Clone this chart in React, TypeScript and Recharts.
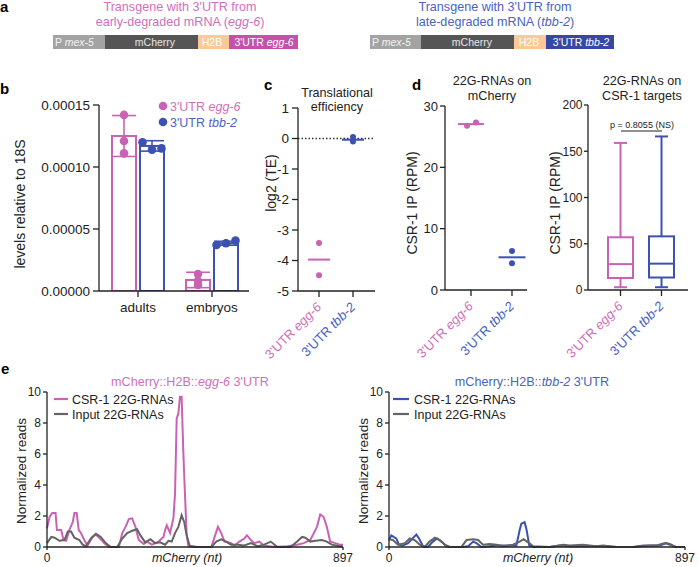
import React from 'react'
import {
  ComposedChart,
  Bar,
  ErrorBar,
  XAxis,
  YAxis,
  ScatterChart,
  Scatter,
  ReferenceLine,
  Line,
} from 'recharts'

// ---------------------------------------------------------------------------
// Style constants
// ---------------------------------------------------------------------------

const FONT = '"Liberation Sans", Arial, Helvetica, sans-serif'
const INK = '#222'
const PINK = '#c962b4'
const BLUE = '#3c51b2'
const PINK_TEXT = '#cf70bb'
const BLUE_TEXT = '#4c62c0'
const GREY_LINE = '#646464'

// ---------------------------------------------------------------------------
// Data
// ---------------------------------------------------------------------------

// b: transcript levels relative to 18S
const stages = ['adults', 'embryos']
const eggLevel = [0.000125, 0.0000089]
const eggLevelSd = [0.0000165, 0.0000062]
const eggLevelReps = [
  [0.000142, 0.000121, 0.000111],
  [0.0000137, 0.0000082, 0.0000048],
]
const tbbLevel = [0.000117, 0.0000385]
const tbbLevelSd = [0.0000042, 0.0000016]
const tbbLevelReps = [
  [0.00012, 0.000114, 0.000115],
  [0.0000371, 0.0000385, 0.0000406],
]
const levelTicks = [0, 0.00005, 0.0001, 0.00015]

// c: translational efficiency, log2
const teEgg = [-3.43, -4.48]
const teTbb = [0.05, -0.1]
const teMean = [-3.97, -0.04]
const teTicks = [-5, -4, -3, -2, -1, 0, 1]

// d: 22G-RNAs on mCherry (CSR-1 IP, RPM)
const mcherryEgg = [26.8, 27.3]
const mcherryTbb = [6.35, 4.35]
const mcherryMean = [27.05, 5.33]
const mcherryTicks = [0, 10, 20, 30]

// d: 22G-RNAs on CSR-1 targets (box plot)
const groupLabels = ['egg-6', 'tbb-2']
const csrMin = [3, 3]
const csrQ1 = [13, 13.5]
const csrMedian = [28, 28.5]
const csrQ3 = [57, 58]
const csrMax = [159, 166]
const csrTicks = [0, 50, 100, 150, 200]
const csrPValue = 'p = 0.8055 (NS)'

// e: read coverage along mCherry (nt)
const eggCsrNt = [
  0, 8, 16, 26, 30, 43, 50, 58, 68, 78, 83, 90, 96, 103, 113, 123, 138, 148, 158, 173,
  188, 218, 228, 238, 248, 258, 268, 278, 293, 303, 318, 338, 353, 358, 363, 373, 383, 388, 393, 398,
  403, 408, 413, 418, 423, 428, 448, 498, 508, 518, 528, 538, 558, 568, 583, 598, 606, 618, 628, 643,
  658, 688, 728, 758, 778, 798, 818, 828, 838, 848, 858, 873, 888, 897,
]
const eggCsrReads = [
  1.2, 1.95, 2.2, 2.2, 1.1, 1.1, 0.45, 0.4, 1.1, 1.6, 2.2, 2.2, 1.1, 0.9, 0.45, 0.1, 0.65, 0.8, 0.6, 0.25,
  0, 0, 0.9, 1.3, 1.8, 1.85, 1.3, 0.45, 0.2, 0.35, 0.15, 0.35, 0.65, 1.1, 1.4, 0.9, 1.85, 3.45, 8.3, 8.6,
  9.7, 9.7, 6.2, 3.45, 0.9, 0.1, 0, 0, 0.65, 1.3, 0.9, 0.35, 0.25, 0.1, 0.35, 0.55, 0.75, 0.45, 0.25, 0.35,
  0.1, 0, 0.05, 0.15, 0.25, 0.45, 1.3, 2.1, 1.95, 1.3, 0.35, 0.25, 0.15, 0.15,
]
const eggInputNt = [
  0, 13, 23, 38, 53, 63, 73, 83, 98, 108, 118, 133, 148, 163, 178, 193, 213, 228, 243, 258,
  273, 283, 298, 313, 328, 343, 358, 368, 378, 388, 398, 408, 416, 423, 433, 458, 498, 513, 528, 543,
  558, 578, 598, 618, 638, 658, 678, 698, 738, 758, 773, 783, 798, 813, 833, 848, 863, 888, 897,
]
const eggInputReads = [
  0.25, 0.65, 0.6, 0.4, 0.45, 1.0, 1.0, 0.6, 0.45, 0.15, 0.05, 0.55, 0.85, 0.65, 0.25, 0, 0, 0.55, 0.9, 1.05,
  1.15, 0.75, 0.3, 0.5, 0.25, 0.3, 0.15, 0.4, 0.35, 0.9, 1.3, 2.05, 1.6, 0.75, 0.05, 0, 0, 0.35, 0.5, 0.35,
  0.15, 0.15, 0.1, 0.25, 0.05, 0.15, 0.35, 0, 0, 0.35, 0.65, 0.6, 0.35, 0.4, 0.45, 0.35, 0.15, 0.05, 0.05,
]
const tbbCsrNt = [
  0, 7, 14, 22, 30, 42, 58, 71, 83, 91, 103, 118, 133, 146, 159, 174, 184, 224, 240, 255,
  265, 280, 305, 326, 346, 366, 386, 396, 401, 411, 417, 425, 437, 487, 518, 548, 588, 639, 690, 740,
  791, 821, 841, 856, 866, 897,
]
const tbbCsrReads = [
  0.45, 0.75, 0.65, 0.55, 0.15, 0.1, 0.25, 0.55, 0.8, 0.55, 0.05, 0, 0.35, 0.55, 0.35, 0.05, 0, 0, 0.05, 0.35,
  0.25, 0, 0.05, 0.1, 0.1, 0.1, 0.1, 1.1, 1.5, 1.6, 1.1, 0.1, 0, 0, 0.1, 0.05, 0.05, 0.05, 0, 0,
  0.1, 0.1, 0.25, 0.15, 0, 0,
]
const tbbInputNt = [
  0, 12, 27, 48, 63, 78, 93, 108, 123, 139, 154, 169, 184, 219, 235, 255, 270, 285, 305, 326,
  346, 376, 396, 408, 422, 437, 487, 528, 548, 588, 629, 649, 690, 740, 770, 811, 836, 851, 871, 897,
]
const tbbInputReads = [
  0.5, 0.45, 0.15, 0.25, 0.55, 0.45, 0.15, 0, 0.35, 0.6, 0.45, 0.15, 0, 0, 0.45, 0.5, 0.45, 0.15, 0.2, 0.15,
  0.05, 0.15, 0.35, 0.5, 0.3, 0.05, 0, 0.15, 0.1, 0.15, 0.05, 0.1, 0, 0, 0.1, 0.1, 0.25, 0.15, 0, 0,
]
const coverageTicks = [0, 2, 4, 6, 8, 10]

// ---------------------------------------------------------------------------
// Shared axis props
// ---------------------------------------------------------------------------

const axisStroke = { stroke: INK, strokeWidth: 1.3 }
const tickText = { fontSize: 13.5, fill: INK, fontFamily: FONT }

function SlantTick(props: any) {
  const { x, y, index } = props
  const ax = x + 3
  const ay = y + 9
  return (
    <text
      x={ax}
      y={ay}
      transform={`rotate(-45 ${ax} ${ay})`}
      textAnchor="end"
      fontSize={13}
      fontFamily={FONT}
      fill={index === 0 ? PINK_TEXT : BLUE_TEXT}
    >
      3'UTR <tspan fontStyle="italic">{groupLabels[index]}</tspan>
    </text>
  )
}

const dotShape = (r: number, color: string, jitter: number[] = []) => (p: any) => (
  <circle cx={p.cx + (jitter[p.payload?.rep] ?? 0)} cy={p.cy} r={r} fill={color} />
)

const meanShape = (half: number, color: string) => (p: any) => (
  <line x1={p.cx - half} x2={p.cx + half} y1={p.cy} y2={p.cy} stroke={color} strokeWidth={2} />
)

const points = (vals: number[], x: number) => vals.map((y, rep) => ({ x, y, rep }))

// ---------------------------------------------------------------------------
// b: hollow bars with replicate dots
// ---------------------------------------------------------------------------

const levelRows = stages.map((stage, i) => ({
  stage,
  egg: eggLevel[i],
  eggSd: eggLevelSd[i],
  eggReps: eggLevelReps[i],
  tbb: tbbLevel[i],
  tbbSd: tbbLevelSd[i],
  tbbReps: tbbLevelReps[i],
}))

const hollowBar = (key: string, color: string, spread: number) => (p: any) => {
  const { x, y, width, height, payload } = p
  const base = y + height
  const mean = payload[key]
  const perUnit = mean ? height / mean : 0
  const reps: number[] = payload[key + 'Reps']
  return (
    <g>
      <rect x={x} y={y} width={width} height={height} fill="#fff" stroke={color} strokeWidth={2} />
      {reps.map((v, i) => (
        <circle key={i} cx={x + width / 2 + (i - 1) * spread} cy={base - v * perUnit} r={4.3} fill={color} />
      ))}
    </g>
  )
}

function LevelsChart() {
  return (
    <ComposedChart
      width={260}
      height={230}
      data={levelRows}
      margin={{ top: 10, right: 11, bottom: 4, left: 0 }}
      barSize={24}
      barGap={4}
    >
      <XAxis
        dataKey="stage"
        padding={{ left: 2, right: 0 }}
        height={30}
        tickSize={6}
        tickMargin={5}
        axisLine={axisStroke}
        tickLine={axisStroke}
        tick={tickText}
        interval={0}
      />
      <YAxis
        domain={[0, 0.00015]}
        ticks={levelTicks}
        allowDataOverflow
        width={99}
        tickSize={6}
        tickMargin={3}
        axisLine={axisStroke}
        tickLine={axisStroke}
        tick={tickText}
        tickFormatter={(v: number) => v.toFixed(5)}
      />
      <Bar dataKey="egg" shape={hollowBar('egg', PINK, 0)} isAnimationActive={false}>
        <ErrorBar dataKey="eggSd" width={12} strokeWidth={1.6} stroke={PINK} direction="y" />
      </Bar>
      <Bar dataKey="tbb" shape={hollowBar('tbb', BLUE, 9.5)} isAnimationActive={false}>
        <ErrorBar dataKey="tbbSd" width={12} strokeWidth={1.6} stroke={BLUE} direction="y" />
      </Bar>
    </ComposedChart>
  )
}

// ---------------------------------------------------------------------------
// c: translational efficiency
// ---------------------------------------------------------------------------

function TeChart() {
  return (
    <ScatterChart width={145} height={290} margin={{ top: 13, right: 10, bottom: 64, left: 0 }}>
      <XAxis
        type="number"
        dataKey="x"
        domain={[-0.618, 1.647]}
        ticks={[0, 1]}
        interval={0}
        height={30}
        tickSize={6}
        axisLine={axisStroke}
        tickLine={axisStroke}
        tick={(p: any) => <SlantTick {...p} />}
      />
      <YAxis
        type="number"
        dataKey="y"
        domain={[-5, 1]}
        ticks={teTicks}
        interval={0}
        width={58}
        tickSize={6}
        tickMargin={3}
        axisLine={axisStroke}
        tickLine={axisStroke}
        tick={tickText}
      />
      <ReferenceLine y={0} stroke="#333" strokeWidth={1.5} strokeDasharray="1.5 2" />
      <Scatter data={points(teEgg, 0)} shape={dotShape(3, PINK)} isAnimationActive={false} />
      <Scatter data={points(teTbb, 1)} shape={dotShape(3, BLUE)} isAnimationActive={false} />
      <Scatter data={[{ x: 0, y: teMean[0] }]} shape={meanShape(11, PINK)} isAnimationActive={false} />
      <Scatter data={[{ x: 1, y: teMean[1] }]} shape={meanShape(11, BLUE)} isAnimationActive={false} />
    </ScatterChart>
  )
}

// ---------------------------------------------------------------------------
// d (left): 22G-RNAs on mCherry
// ---------------------------------------------------------------------------

function MCherryChart() {
  return (
    <ScatterChart width={150} height={290} margin={{ top: 11, right: 8, bottom: 64, left: 0 }}>
      <XAxis
        type="number"
        dataKey="x"
        domain={[-0.634, 1.366]}
        ticks={[0, 1]}
        interval={0}
        height={31}
        tickSize={6}
        axisLine={axisStroke}
        tickLine={axisStroke}
        tick={(p: any) => <SlantTick {...p} />}
      />
      <YAxis
        type="number"
        dataKey="y"
        domain={[0, 30]}
        ticks={mcherryTicks}
        interval={0}
        width={60}
        tickSize={5}
        tickMargin={2}
        axisLine={axisStroke}
        tickLine={axisStroke}
        tick={{ ...tickText, fontSize: 13 }}
      />
      <Scatter data={[{ x: 0, y: mcherryMean[0] }]} shape={meanShape(13, PINK)} isAnimationActive={false} />
      <Scatter data={[{ x: 1, y: mcherryMean[1] }]} shape={meanShape(13.5, BLUE)} isAnimationActive={false} />
      <Scatter data={points(mcherryEgg, 0)} shape={dotShape(3, PINK, [-4, 5])} isAnimationActive={false} />
      <Scatter data={points(mcherryTbb, 1)} shape={dotShape(3, BLUE)} isAnimationActive={false} />
    </ScatterChart>
  )
}

// ---------------------------------------------------------------------------
// d (right): box plot of CSR-1 targets
// ---------------------------------------------------------------------------

const csrRows = groupLabels.map((g, i) => ({
  g,
  min: csrMin[i],
  q1: csrQ1[i],
  med: csrMedian[i],
  q3: csrQ3[i],
  max: csrMax[i],
}))

function BoxShape(p: any) {
  const { x, width, payload } = p
  const top = Math.min(p.y, p.y + p.height)
  const h = Math.abs(p.height)
  const { min, q1, med, q3, max } = payload
  const py = (v: number) => top + (h * (max - v)) / (max - min)
  const cx = x + width / 2
  const color = payload.g === groupLabels[0] ? PINK : BLUE
  const cap = 6.5
  return (
    <g stroke={color} strokeWidth={2} fill="none">
      <line x1={cx} x2={cx} y1={py(max)} y2={py(q3)} />
      <line x1={cx} x2={cx} y1={py(q1)} y2={py(min)} />
      <line x1={cx - cap} x2={cx + cap} y1={py(max)} y2={py(max)} />
      <line x1={cx - cap} x2={cx + cap} y1={py(min)} y2={py(min)} />
      <rect x={x} y={py(q3)} width={width} height={py(q1) - py(q3)} fill="#fff" />
      <line x1={x} x2={x + width} y1={py(med)} y2={py(med)} />
    </g>
  )
}

function CsrBoxChart() {
  return (
    <ComposedChart width={160} height={290} data={csrRows} margin={{ top: 10, right: 7, bottom: 64, left: 0 }}>
      <XAxis
        dataKey="g"
        padding={{ left: 12, right: 6 }}
        height={31}
        tickSize={6}
        interval={0}
        axisLine={axisStroke}
        tickLine={axisStroke}
        tick={(p: any) => <SlantTick {...p} />}
      />
      <YAxis
        domain={[0, 200]}
        ticks={csrTicks}
        interval={0}
        width={53}
        tickSize={4}
        tickMargin={1.5}
        axisLine={axisStroke}
        tickLine={axisStroke}
        tick={{ ...tickText, fontSize: 12 }}
      />
      <Bar
        dataKey={(d: any) => [d.min, d.max]}
        barSize={25}
        shape={(p: any) => <BoxShape {...p} />}
        isAnimationActive={false}
      />
    </ComposedChart>
  )
}

// ---------------------------------------------------------------------------
// e: coverage tracks (both series merged on one nt table, gaps bridged)
// ---------------------------------------------------------------------------

function coverageTable(csrNt: number[], csrReads: number[], inNt: number[], inReads: number[]) {
  const all = Array.from(new Set([...csrNt, ...inNt])).sort((a, b) => a - b)
  return all.map((nt) => {
    const i = csrNt.indexOf(nt)
    const j = inNt.indexOf(nt)
    return { nt, csr: i >= 0 ? csrReads[i] : null, input: j >= 0 ? inReads[j] : null }
  })
}

function CoverageChart({ data, color, width, axisW, right }: any) {
  return (
    <ComposedChart width={width} height={182} data={data} margin={{ top: 7, right, bottom: 0, left: 0 }}>
      <XAxis
        type="number"
        dataKey="nt"
        domain={[0, 897]}
        ticks={[0, 897]}
        interval={0}
        height={20}
        tickSize={3}
        tickMargin={3.5}
        axisLine={axisStroke}
        tickLine={axisStroke}
        tick={{ fontSize: 12, fill: INK, fontFamily: FONT }}
      />
      <YAxis
        type="number"
        domain={[0, 10]}
        ticks={coverageTicks}
        interval={0}
        width={axisW}
        tickSize={4}
        tickMargin={2}
        axisLine={axisStroke}
        tickLine={axisStroke}
        tick={{ fontSize: 12, fill: INK, fontFamily: FONT }}
      />
      <Line dataKey="csr" stroke={color} strokeWidth={2} dot={false} type="linear" connectNulls isAnimationActive={false} />
      <Line dataKey="input" stroke={GREY_LINE} strokeWidth={2} dot={false} type="linear" connectNulls isAnimationActive={false} />
    </ComposedChart>
  )
}

// ---------------------------------------------------------------------------
// Annotation layer: titles, axis labels, legends, construct schematics
// ---------------------------------------------------------------------------

function VLabel({ x, y, size = 14, children }: any) {
  return (
    <text x={x} y={y} fontSize={size} textAnchor="middle" fill={INK} transform={`rotate(-90 ${x} ${y})`}>
      {children}
    </text>
  )
}

function Construct({ edges, utrColor, utrName, labels }: any) {
  const fills = ['#a3a3a3', '#555555', '#fbc996', utrColor]
  return (
    <g>
      {fills.map((f, i) => (
        <rect key={i} x={edges[i]} y={35} width={edges[i + 1] - edges[i]} height={14} fill={f} />
      ))}
      <g fontSize={10.5} fill="#fff">
        <text x={edges[0] + 2} y={46} fill="#f3f3f3">
          P <tspan fontStyle="italic">mex-5</tspan>
        </text>
        <text x={labels[0]} y={46} textAnchor="middle" fill="#e6e6e6">mCherry</text>
        <text x={labels[1]} y={46} textAnchor="middle">H2B</text>
        <text x={labels[2]} y={46} textAnchor="middle">
          3'UTR <tspan fontStyle="italic">{utrName}</tspan>
        </text>
      </g>
    </g>
  )
}

function Overlay() {
  return (
    <svg
      width={699}
      height={567}
      style={{ position: 'absolute', left: 0, top: 0, pointerEvents: 'none', zIndex: 1 }}
      fontFamily={FONT}
    >
      {/* panel letters */}
      <g fontSize={15} fontWeight="bold" fill="#000">
        <text x={0} y={12}>a</text>
        <text x={0} y={94}>b</text>
        <text x={264} y={90}>c</text>
        <text x={412} y={90}>d</text>
        <text x={1} y={374}>e</text>
      </g>

      {/* a */}
      <g fontSize={12.6} textAnchor="middle" fill={PINK_TEXT}>
        <text x={180} y={11}>Transgene with 3'UTR from</text>
        <text x={180} y={26}>
          early-degraded mRNA (<tspan fontStyle="italic">egg-6</tspan>)
        </text>
      </g>
      <g fontSize={12.6} textAnchor="middle" fill={BLUE_TEXT}>
        <text x={495} y={11}>Transgene with 3'UTR from</text>
        <text x={495} y={26}>
          late-degraded mRNA (<tspan fontStyle="italic">tbb-2</tspan>)
        </text>
      </g>
      <Construct edges={[53, 105, 198, 229, 298]} utrColor="#c452ac" utrName="egg-6" labels={[155, 212, 264]} />
      <Construct edges={[370, 421, 514, 546, 614]} utrColor="#3548a8" utrName="tbb-2" labels={[472, 529, 581]} />

      {/* b */}
      <VLabel x={25} y={204}>levels relative to 18S</VLabel>
      <g fontSize={12.5}>
        <circle cx={163} cy={106} r={4.3} fill={PINK} />
        <text x={170} y={110.5} fill={PINK_TEXT}>
          3'UTR <tspan fontStyle="italic">egg-6</tspan>
        </text>
        <circle cx={163} cy={122} r={4.3} fill={BLUE} />
        <text x={170} y={126.5} fill={BLUE_TEXT}>
          3'UTR <tspan fontStyle="italic">tbb-2</tspan>
        </text>
      </g>

      {/* c */}
      <g fontSize={12.6} textAnchor="middle" fill={INK}>
        <text x={337} y={97}>Translational</text>
        <text x={337} y={111}>efficiency</text>
      </g>
      <VLabel x={276} y={183}>log2 (TE)</VLabel>

      {/* d */}
      <g fontSize={12.6} textAnchor="middle" fill={INK}>
        <text x={492} y={85}>22G-RNAs on</text>
        <text x={492} y={100}>mCherry</text>
        <text x={642} y={85}>22G-RNAs on</text>
        <text x={642} y={100}>CSR-1 targets</text>
      </g>
      <VLabel x={417} y={203}>CSR-1 IP (RPM)</VLabel>
      <VLabel x={560} y={203}>CSR-1 IP (RPM)</VLabel>
      <text x={642} y={127.5} fontSize={9} textAnchor="middle" fill={INK}>{csrPValue}</text>
      <line x1={621} x2={662} y1={131} y2={131} stroke={INK} strokeWidth={1} />

      {/* e */}
      <g fontSize={12.6} textAnchor="middle">
        <text x={190} y={386} fill={PINK_TEXT}>
          mCherry::H2B::<tspan fontStyle="italic">egg-6</tspan> 3'UTR
        </text>
        <text x={532} y={386} fill={BLUE_TEXT}>
          mCherry::H2B::<tspan fontStyle="italic">tbb-2</tspan> 3'UTR
        </text>
      </g>
      <VLabel x={26} y={471} size={13.5}>Normalized reads</VLabel>
      <VLabel x={368} y={471} size={13.5}>Normalized reads</VLabel>
      <g fontSize={12.5} fill={INK}>
        <line x1={54} x2={68} y1={399} y2={399} stroke={PINK} strokeWidth={2.2} />
        <text x={72} y={403.5}>CSR-1 22G-RNAs</text>
        <line x1={54} x2={68} y1={414} y2={414} stroke={GREY_LINE} strokeWidth={2.2} />
        <text x={72} y={418.5}>Input 22G-RNAs</text>
        <line x1={393} x2={409} y1={399} y2={399} stroke={BLUE} strokeWidth={2.2} />
        <text x={414} y={403.5}>CSR-1 22G-RNAs</text>
        <line x1={393} x2={409} y1={414} y2={414} stroke={GREY_LINE} strokeWidth={2.2} />
        <text x={414} y={418.5}>Input 22G-RNAs</text>
      </g>
      <g fontSize={12.5} fontStyle="italic" textAnchor="middle" fill={INK}>
        <text x={187} y={562}>mCherry (nt)</text>
        <text x={538} y={562}>mCherry (nt)</text>
      </g>
    </svg>
  )
}

// ---------------------------------------------------------------------------
// App
// ---------------------------------------------------------------------------

const at = (left: number, top: number, z = 0): React.CSSProperties => ({ position: 'absolute', left, top, zIndex: z })

export default function App() {
  return (
    <div
      style={{
        position: 'relative',
        width: 699,
        height: 567,
        fontFamily: FONT,
        background: '#fff',
        overflow: 'hidden',
      }}
    >
      <style>{'body{margin:0}'}</style>
      <Overlay />
      <div style={at(0, 95)}>
        <LevelsChart />
      </div>
      <div style={at(240, 95)}>
        <TeChart />
      </div>
      <div style={at(385, 95)}>
        <MCherryChart />
      </div>
      <div style={at(535, 95)}>
        <CsrBoxChart />
      </div>
      <div style={at(0, 385, 3)}>
        <CoverageChart
          data={coverageTable(eggCsrNt, eggCsrReads, eggInputNt, eggInputReads)}
          color={PINK}
          width={362}
          axisW={47}
          right={19}
        />
      </div>
      <div style={at(350, 385, 3)}>
        <CoverageChart
          data={coverageTable(tbbCsrNt, tbbCsrReads, tbbInputNt, tbbInputReads)}
          color={BLUE}
          width={349}
          axisW={39}
          right={14}
        />
      </div>
    </div>
  )
}
